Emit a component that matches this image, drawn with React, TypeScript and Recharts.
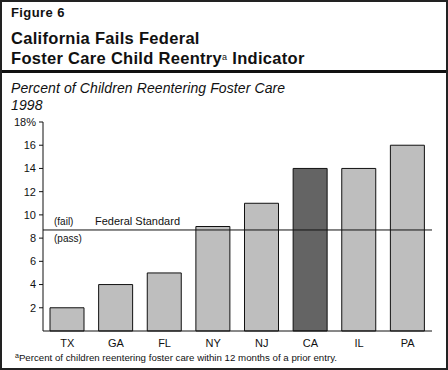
import React from 'react'
import { BarChart, Bar, XAxis, YAxis, ReferenceLine, Cell } from 'recharts'

const states = ['TX', 'GA', 'FL', 'NY', 'NJ', 'CA', 'IL', 'PA']
const reentryPct = [2, 4, 5, 9, 11, 14, 14, 16]
const yTicks = [2, 4, 6, 8, 10, 12, 14, 16, 18]
const federalStandard = 8.7
const highlight = 'CA'

const font = '"Liberation Sans", Arial, sans-serif'

const chartData = states.map((s, i) => ({ state: s, pct: reentryPct[i] }))

function StandardLabel({ viewBox }: any) {
  const { x, y } = viewBox
  return (
    <g fontFamily={font} fill="#111">
      <text x={x + 11} y={y - 5} fontSize={10}>(fail)</text>
      <text x={x + 52} y={y - 5} fontSize={11}>Federal Standard</text>
      <text x={x + 11} y={y + 12.5} fontSize={10}>(pass)</text>
    </g>
  )
}

export default function App() {
  return (
    <div style={{ position: 'absolute', left: 0, top: 0, width: 448, height: 370, fontFamily: font, color: '#111', background: '#fff' }}>
      <div style={{ position: 'absolute', left: 0, top: 0, width: 448, height: 370, border: '2px solid #222', boxSizing: 'border-box' }} />
      <div style={{ position: 'absolute', left: 11, top: 6, fontSize: 13, lineHeight: '13px', fontWeight: 'bold', letterSpacing: 0.4 }}>Figure 6</div>
      <div style={{ position: 'absolute', left: 11, top: 28, fontSize: 16.5, lineHeight: '20px', fontWeight: 'bold', whiteSpace: 'nowrap', letterSpacing: 0.3 }}>
        California Fails Federal<br />
        Foster Care Child Reentry<sup style={{ fontSize: 9, fontWeight: 'normal', verticalAlign: 'top', position: 'relative', top: -1 }}>a</sup> Indicator
      </div>
      <div style={{ position: 'absolute', left: 2, top: 70, width: 444, height: 3, background: '#111' }} />
      <div style={{ position: 'absolute', left: 11, top: 80, fontSize: 14, lineHeight: '16.5px', fontStyle: 'italic', whiteSpace: 'nowrap', letterSpacing: 0.1 }}>
        Percent of Children Reentering Foster Care<br />1998
      </div>
      <div style={{ position: 'absolute', left: 0, top: 110 }}>
        <BarChart width={448} height={250} data={chartData} margin={{ top: 12, right: 16, left: 0, bottom: 0 }} barSize={34}>
          <XAxis
            dataKey="state"
            height={29}
            tickLine={false}
            axisLine={{ stroke: '#111' }}
            tick={{ fontSize: 11, fill: '#111', fontFamily: font }}
          />
          <YAxis
            width={43}
            domain={[0, 18]}
            ticks={yTicks}
            tickSize={4}
            tickMargin={3}
            axisLine={{ stroke: '#111' }}
            tickLine={{ stroke: '#111' }}
            tick={{ fontSize: 11, fill: '#111', fontFamily: font }}
            tickFormatter={(v) => (v === 18 ? '18%' : String(v))}
          />
          <Bar dataKey="pct" stroke="#111" strokeWidth={1} isAnimationActive={false}>
            {chartData.map((d) => (
              <Cell key={d.state} fill={d.state === highlight ? '#646464' : '#bebebe'} />
            ))}
          </Bar>
          <ReferenceLine y={federalStandard} stroke="#111" strokeWidth={1} label={<StandardLabel />} />
        </BarChart>
      </div>
      <div style={{ position: 'absolute', left: 15, top: 353, fontSize: 9.7, lineHeight: '10px', whiteSpace: 'nowrap' }}>
        <sup style={{ fontSize: 7, verticalAlign: 'top', position: 'relative', top: -2 }}>a</sup>Percent of children reentering foster care within 12 months of a prior entry.
      </div>
    </div>
  )
}
